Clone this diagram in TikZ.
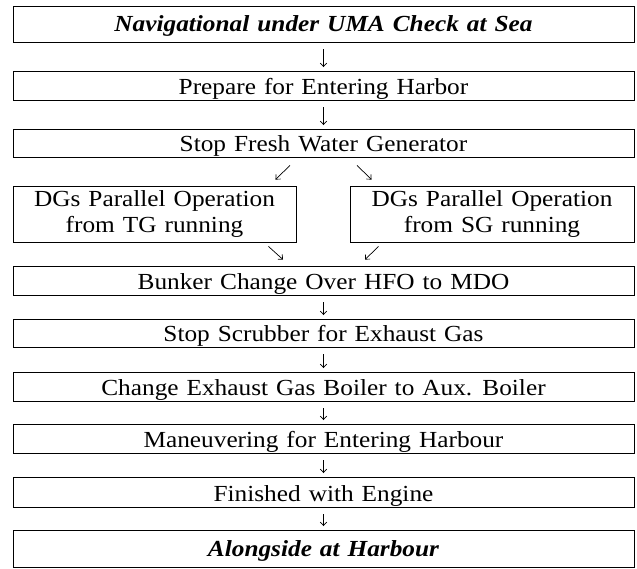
\documentclass[tikz,border=0pt]{standalone}
\usepackage{fontspec}
\setmainfont{Liberation Serif}[FakeStretch=1.1]
\usetikzlibrary{arrows.meta,calc}

% text face used in every box: wide word spaces
\newcommand\flowfont{\fontsize{23}{26}\selectfont\spaceskip=8pt plus 2pt minus 1pt\relax}

\begin{document}
\begin{tikzpicture}[x=1pt,y=1pt,
  box/.style={draw, line width=0.9pt, inner sep=0pt,
    minimum width=621pt, minimum height=29pt,
    text height=18pt, text depth=0pt, font=\flowfont},
  titlebox/.style={box, text height=17pt, text depth=1pt,
    font=\flowfont\bfseries\itshape},
  sidebox/.style={box, minimum width=283pt, minimum height=56pt,
    align=center, text height=38pt, text depth=0pt},
  flow/.style={line width=0.7pt, -{Straight Barb[length=3.5pt,width=6.5pt]}},
  down/.style={flow, shorten <=7pt, shorten >=3.5pt}
]
\useasboundingbox (0,0) rectangle (637,568);

\node[titlebox, minimum height=36pt] (sea)  at (323.5,544)   {Navigational under UMA Check at Sea};
\node[box]                          (prep) at (323.5,482.5) {Prepare for Entering Harbor};
\node[box, minimum height=28pt]     (fwg)  at (323.5,425)   {Stop Fresh Water Generator};
\node[sidebox]                      (tg)   at (154.5,354)   {DGs Parallel Operation\\from TG running};
\node[sidebox, minimum width=284pt] (sg)   at (492,354)     {DGs Parallel Operation\\from SG running};
\node[box]                          (bunk) at (323.5,287.5) {Bunker Change Over HFO to MDO};
\node[box, minimum height=28pt]     (scr)  at (323.5,235)   {Stop Scrubber for Exhaust Gas};
\node[box]                          (blr)  at (323.5,181.5) {Change Exhaust Gas Boiler to Aux. Boiler};
\node[box]                          (man)  at (323.5,129.5) {Maneuvering for Entering Harbour};
\node[box, minimum height=30pt]     (fwe)  at (323.5,76)    {Finished with Engine};
\node[titlebox, minimum height=37pt] (alo) at (323.5,19.5)  {Alongside at Harbour};

% straight steps
\draw[down] (sea) -- (prep);
\draw[down] (prep) -- (fwg);
\draw[down] (bunk) -- (scr);
\draw[down] (scr) -- (blr);
\draw[down] (blr) -- (man);
\draw[down] (man) -- (fwe);
\draw[down] (fwe) -- (alo);

% branch to the two generator cases and back
\draw[flow] ($(fwg.south)+(-33.5,-8)$) -- ($(tg.north east)+(-21,6)$);
\draw[flow] ($(fwg.south)+(33.5,-8)$)  -- ($(sg.north west)+(22,6)$);
\draw[flow] ($(tg.south east)+(-28,-4)$) -- ($(bunk.north)+(-40.5,6)$);
\draw[flow] ($(sg.south west)+(29,-4)$)  -- ($(bunk.north)+(41.5,6)$);
\end{tikzpicture}
\end{document}
